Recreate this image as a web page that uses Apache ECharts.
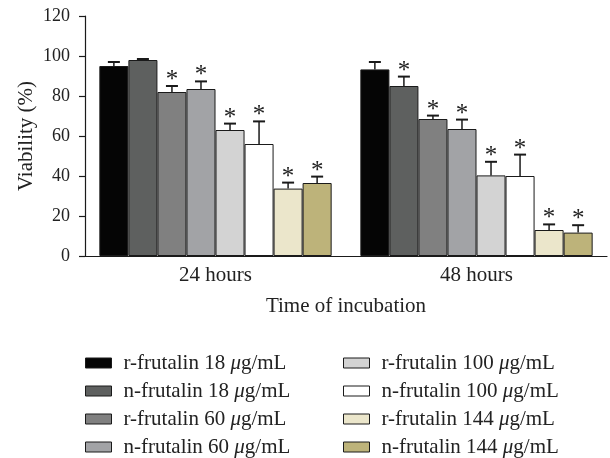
<!DOCTYPE html>
<html>
<head>
<meta charset="utf-8">
<script src="https://cdn.jsdelivr.net/npm/echarts@6/dist/echarts.min.js"></script>
<style>html,body{margin:0;padding:0;background:#fff}#c{width:610px;height:458px}</style>
</head>
<body>
<div id="c"></div>
<script>
var categories = ['24 hours', '48 hours'];
var seriesNames = [
  'r-frutalin 18 μg/mL', 'n-frutalin 18 μg/mL', 'r-frutalin 60 μg/mL', 'n-frutalin 60 μg/mL',
  'r-frutalin 100 μg/mL', 'n-frutalin 100 μg/mL', 'r-frutalin 144 μg/mL', 'n-frutalin 144 μg/mL'
];
var colors = ['#050505', '#5e605f', '#808080', '#a2a3a6', '#d3d3d3', '#ffffff', '#ebe6cb', '#bdb37a'];
// values per series: [24 h, 48 h]
var r18 = [95, 93.3];
var n18 = [98, 85];
var r60 = [82, 68.5];
var n60 = [83.5, 63.5];
var r100 = [63, 40.3];
var n100 = [56, 40];
var r144 = [33.7, 13];
var n144 = [36.5, 11.7];
var values = [r18, n18, r60, n60, r100, n100, r144, n144];
// standard deviations (upper only)
var r18Err = [2, 3.7];
var n18Err = [0.5, 4.7];
var r60Err = [3, 1.7];
var n60Err = [3.8, 4.7];
var r100Err = [3.2, 6.8];
var n100Err = [11.3, 10.7];
var r144Err = [3, 2.8];
var n144Err = [3.2, 3.7];
var errors = [r18Err, n18Err, r60Err, n60Err, r100Err, n100Err, r144Err, n144Err];
// significance flags
var r18Sig = [0, 0];
var n18Sig = [0, 1];
var r60Sig = [1, 1];
var n60Sig = [1, 1];
var r100Sig = [1, 1];
var n100Sig = [1, 1];
var r144Sig = [1, 1];
var n144Sig = [1, 1];
var sig = [r18Sig, n18Sig, r60Sig, n60Sig, r100Sig, n100Sig, r144Sig, n144Sig];
var yTicks = [0, 20, 40, 60, 80, 100, 120];

var FONT = 'Liberation Serif';
var GAP = 0.11;
var N = seriesNames.length;

var series = seriesNames.map(function (name, s) {
  return {
    name: name,
    type: 'bar',
    data: values[s],
    barGap: '0%',
    barCategoryGap: (GAP * 100) + '%',
    itemStyle: { color: colors[s], borderColor: '#1a1a1a', borderWidth: 1 },
    emphasis: { disabled: true },
    z: 2
  };
});

var errData = [];
for (var s = 0; s < N; s++) {
  for (var c = 0; c < categories.length; c++) {
    errData.push([c, s, values[s][c], errors[s][c], sig[s][c]]);
  }
}

series.push({
  type: 'custom',
  encode: { x: 0, y: 2 },
  data: errData,
  z: 3,
  silent: true,
  renderItem: function (params, api) {
    var c = api.value(0), s = api.value(1), v = api.value(2), e = api.value(3), st = api.value(4);
    var center = api.coord([c, 0])[0];
    var band = api.size([1, 0])[0];
    var total = band * (1 - GAP);
    var bw = total / N;
    var x = center - total / 2 + (s + 0.5) * bw;
    var yb = api.coord([c, v])[1];
    var yt = api.coord([c, v + e])[1];
    var children = [
      { type: 'line', shape: { x1: x, y1: yb, x2: x, y2: yt }, style: { stroke: '#1a1a1a', lineWidth: 1.5 } },
      { type: 'line', shape: { x1: x - 6, y1: yt, x2: x + 6, y2: yt }, style: { stroke: '#1a1a1a', lineWidth: 2 } }
    ];
    if (st) {
      children.push({
        type: 'text',
        style: {
          text: '*', x: x, y: yt + 7, textAlign: 'center', textVerticalAlign: 'bottom',
          font: '25px "' + FONT + '"', fill: '#222'
        }
      });
    }
    return { type: 'group', children: children };
  }
});

function legendFmt(name) {
  var parts = name.split('μ');
  return '{sp| }{a|' + parts[0] + '}{i|μ}{a|' + parts[1] + '}';
}
var legendText = {
  fontFamily: FONT, fontSize: 21, color: '#222', lineHeight: 22,
  rich: {
    sp: { width: 7, fontSize: 21, lineHeight: 22 },
    a: { fontFamily: FONT, fontSize: 21, color: '#222', lineHeight: 22 },
    i: { fontFamily: FONT, fontSize: 21, color: '#222', lineHeight: 22, fontStyle: 'italic' }
  }
};
function makeLegend(left, names) {
  return {
    data: names,
    orient: 'vertical',
    left: left,
    top: 352,
    padding: 0,
    icon: 'rect',
    itemWidth: 26,
    itemHeight: 10,
    itemGap: 6,
    selectedMode: false,
    formatter: legendFmt,
    textStyle: legendText,
    itemStyle: { borderColor: '#1a1a1a', borderWidth: 1 }
  };
}

var chart = echarts.init(document.getElementById('c'), null, { renderer: 'canvas' });
chart.setOption({
  animation: false,
  backgroundColor: '#fff',
  grid: { left: 85, right: 3, top: 16, bottom: 202, containLabel: false },
  legend: [makeLegend(85, seriesNames.slice(0, 4)), makeLegend(343, seriesNames.slice(4))],
  xAxis: {
    type: 'category',
    data: categories,
    name: 'Time of incubation',
    nameLocation: 'middle',
    nameGap: 40,
    nameMoveOverlap: false,
    nameTextStyle: { fontFamily: FONT, fontSize: 21, color: '#222' },
    axisLine: { lineStyle: { color: '#1a1a1a', width: 1.2 } },
    axisTick: { show: false },
    axisLabel: { fontFamily: FONT, fontSize: 21, color: '#222', margin: 9 }
  },
  yAxis: {
    type: 'value',
    min: yTicks[0],
    max: yTicks[yTicks.length - 1],
    interval: yTicks[1] - yTicks[0],
    name: 'Viability (%)',
    nameLocation: 'middle',
    nameGap: 48,
    nameMoveOverlap: false,
    nameTextStyle: { fontFamily: FONT, fontSize: 21, color: '#222' },
    axisLine: { show: true, lineStyle: { color: '#1a1a1a', width: 1.2 } },
    axisTick: { show: true, length: 6, lineStyle: { color: '#1a1a1a', width: 1.2 } },
    axisLabel: { fontFamily: FONT, fontSize: 18, color: '#222', margin: 15 },
    splitLine: { show: false }
  },
  series: series
});
</script>
</body>
</html>
